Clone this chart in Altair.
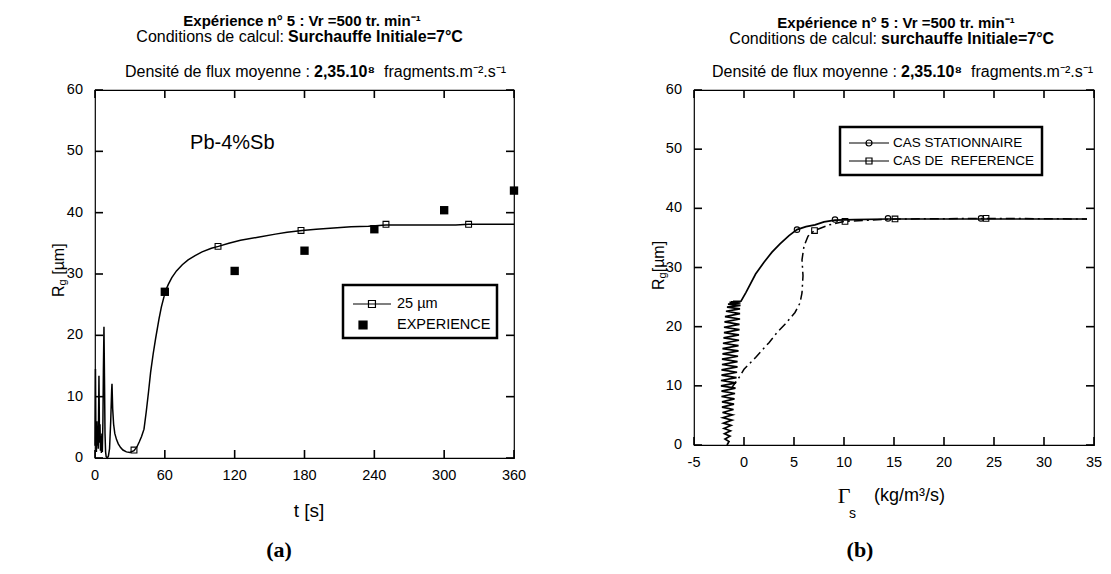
import altair as alt
import pandas as pd

FONT = "Liberation Sans"
SERIF = "Liberation Serif"

# ---------------- Panel (a) : R_g vs t ----------------
curve_t = [0.0, 0.4, 0.8, 1.2, 1.6, 2.0, 2.4, 2.8, 3.4, 3.9, 4.3, 4.7, 5.1, 5.5, 5.9, 6.3,
           6.8, 7.2, 7.7, 8.2, 8.6, 9.1, 9.6, 10.5, 11.5, 12.5, 13.5, 14.3, 14.6, 15.2, 16.0,
           17.0, 18.5, 20.0, 22.0, 24.0, 27.0, 30.0, 33.5, 36.0, 38.0, 40.0, 42.1, 44.0, 46.0,
           47.8, 50.0, 52.1, 55.0, 57.0, 59.3, 60.0, 63, 66, 70, 75, 80, 86, 92, 100, 106,
           115, 125, 140, 155, 165, 178, 190, 205, 220, 235, 250, 270, 290, 310, 321, 340, 360]
curve_r = [2.0, 14.5, 3.0, 1.0, 6.0, 2.0, 4.5, 1.5, 13.4, 2.5, 5.5, 1.2, 3.5, 0.8, 4.0, 1.0,
           6.0, 14.0, 21.4, 12.0, 4.0, 1.0, 0.2, 0.0, 0.3, 1.5, 6.0, 11.0, 12.1, 8.0, 5.5,
           4.0, 3.0, 2.3, 1.7, 1.3, 1.0, 0.9, 1.2, 1.8, 2.6, 3.5, 4.7, 7.5, 10.8,
           14.0, 17.0, 19.5, 22.7, 24.6, 26.3, 27.0, 28.3, 29.4, 30.5, 31.5, 32.3, 33.0, 33.6, 34.2, 34.5,
           35.0, 35.5, 36.0, 36.5, 36.8, 37.1, 37.3, 37.5, 37.7, 37.8, 38.0, 38.0, 38.0, 38.0, 38.1, 38.1, 38.1]
sq25_t = [33.5, 105.7, 177, 250, 321]
sq25_r = [1.3, 34.5, 37.1, 38.1, 38.1]
exp_t = [60, 120, 180, 240, 300, 360]
exp_r = [27.1, 30.5, 33.8, 37.3, 40.4, 43.6]
series_a = ["25 µm", "EXPERIENCE"]
xticks_a = [0, 60, 120, 180, 240, 300, 360]
yticks = [0, 10, 20, 30, 40, 50, 60]

# ---------------- Panel (b) : R_g vs Gamma_s ----------------
stat_g = [-1.7, -1.5, -1.9, -1.4, -1.95, -1.35, -2.0, -1.3, -2.05, -1.2, -2.1, -1.15, -2.15, -1.05,
          -2.2, -1.0, -2.2, -0.95, -2.25, -0.9, -2.25, -0.85, -2.3, -0.8, -2.3, -0.75, -2.25, -0.7,
          -2.25, -0.65, -2.2, -0.65, -2.2, -0.6, -2.15, -0.55, -2.15, -0.55, -2.1, -0.5, -2.05, -0.5,
          -2.0, -0.45, -2.0, -0.45, -1.95, -0.4, -1.9, -0.4, -1.8, -0.4, -1.7, -0.35, -1.6, -0.35,
          -1.45, -0.35, -1.3, -0.3, -1.1, -0.3, -0.8, -0.3,
          0.2, 1.16, 2.0, 2.8, 3.6, 4.5, 5.3, 6.2, 7.1, 8.0, 9.1, 11.0, 14.4, 20.0, 23.7, 30.0, 34.3]
stat_r = [0.0, 0.6, 1.0, 1.5, 1.9, 2.4, 2.8, 3.3, 3.7, 4.2, 4.6, 5.1, 5.5, 6.0, 6.4, 6.9, 7.3, 7.8,
          8.2, 8.7, 9.1, 9.6, 10.0, 10.5, 10.9, 11.4, 11.8, 12.3, 12.7, 13.2, 13.6, 14.1, 14.5, 15.0,
          15.4, 15.9, 16.3, 16.8, 17.2, 17.7, 18.1, 18.6, 19.0, 19.5, 19.9, 20.4, 20.8, 21.3, 21.7,
          22.2, 22.6, 23.0, 23.3, 23.6, 23.8, 24.0, 24.1, 24.2, 24.2, 24.3, 24.3, 24.3, 24.3, 24.3,
          25.8, 28.9, 30.9, 32.6, 34.0, 35.4, 36.4, 36.9, 37.2, 37.7, 38.0, 38.1, 38.2, 38.2, 38.2, 38.2, 38.2]
ref_g = [-1.3, -0.5, 0.0, 1.16, 2.5, 3.3, 4.1, 5.1, 5.6, 5.8, 5.9, 5.8, 6.0, 6.4, 7.05,
         8.5, 10.1, 15.1, 24.2, 34.3]
ref_r = [9.5, 11.4, 12.8, 14.8, 17.3, 19.0, 20.4, 22.4, 24.0, 25.7, 28.6, 31.3, 33.6, 35.3, 36.25,
         37.2, 37.8, 38.2, 38.3, 38.2]
circ_g = [5.3, 9.1, 14.4, 23.7]
circ_r = [36.4, 38.1, 38.3, 38.3]
sqb_g = [7.05, 10.1, 15.1, 24.2]
sqb_r = [36.25, 37.8, 38.2, 38.3]
series_b = ["CAS STATIONNAIRE", "CAS DE\u00a0 REFERENCE"]
xticks_b = [-5, 0, 5, 10, 15, 20, 25, 30, 35]

WA, HA = 419, 368
WB, HB = 400, 355
TICK = 8


def txt(s, x, y, size=15, weight="normal", align="center", angle=0, font=FONT):
    return alt.Chart(pd.DataFrame({"s": [s]})).mark_text(
        fontSize=size, fontWeight=weight, align=align, baseline="middle", font=font,
        color="black", angle=angle).encode(x=alt.value(x), y=alt.value(y), text="s:N")


def tick_labels(xvals, yvals, X, Y, h, xlab_dy=18, ylab_dx=12):
    xdf = pd.DataFrame({"lv": xvals, "lab": [str(v) for v in xvals]})
    ydf = pd.DataFrame({"lv": yvals, "lab": [str(v) for v in yvals]})
    lab = dict(font=FONT, fontSize=14.5, color="black", baseline="middle")
    return [
        alt.Chart(xdf).mark_text(align="center", **lab).encode(
            x=X("lv"), y=alt.value(h + xlab_dy), text="lab:N"),
        alt.Chart(ydf).mark_text(align="right", **lab).encode(
            y=Y("lv"), x=alt.value(-ylab_dx), text="lab:N"),
    ]


def tick_rules(xvals, yvals, X, Y, w, h):
    """Inward ticks on all four sides, placed through the scales."""
    xdf = pd.DataFrame({"tv": xvals})
    ydf = pd.DataFrame({"tv": yvals})
    rule = dict(color="black", strokeWidth=1.6, opacity=1)
    return [
        alt.Chart(xdf).mark_rule(**rule).encode(x=X("tv"), y=alt.value(h), y2=alt.value(h - TICK)),
        alt.Chart(xdf).mark_rule(**rule).encode(x=X("tv"), y=alt.value(0), y2=alt.value(TICK)),
        alt.Chart(ydf).mark_rule(**rule).encode(y=Y("tv"), x=alt.value(0), x2=alt.value(TICK)),
        alt.Chart(ydf).mark_rule(**rule).encode(y=Y("tv"), x=alt.value(w), x2=alt.value(w - TICK)),
    ]


ys = alt.Scale(domain=[0, 60], nice=False)

# ---------- Panel (a) ----------
xs_a = alt.Scale(domain=[0, 360], nice=False, zero=False)


def XA(f):
    return alt.X(f + ":Q", scale=xs_a, axis=None)


def YA(f):
    return alt.Y(f + ":Q", scale=ys, axis=None)


curve_df = pd.DataFrame({"t": curve_t, "r": curve_r, "i": list(range(len(curve_t)))})
sq25_df = pd.DataFrame({"t": sq25_t, "r": sq25_r, "series_a": series_a[0]})
exp_df = pd.DataFrame({"t": exp_t, "r": exp_r, "series_a": series_a[1]})
leg_a_df = pd.concat([sq25_df, exp_df], ignore_index=True)

line_a = alt.Chart(curve_df).mark_line(color="black", strokeWidth=1.5).encode(
    x=XA("t"), y=YA("r"), order="i:Q")
sq25 = alt.Chart(sq25_df).mark_point(shape="square", filled=False, size=34, color="black",
                                     strokeWidth=1.1, opacity=1).encode(x=XA("t"), y=YA("r"))
expm = alt.Chart(exp_df).mark_point(shape="square", filled=True, size=70, color="black",
                                    opacity=1).encode(x=XA("t"), y=YA("r"))

path_25 = "M-0.75,0H2.42M0.54,-0.29H1.12V0.29H0.54Z"
path_exp = "M-0.25,-0.33H0.42V0.33H-0.25Z"
legend_a = alt.Legend(title=None, orient="none", legendX=248, legendY=195, direction="vertical",
                      symbolSize=576, symbolStrokeColor="black", symbolStrokeWidth=1.2,
                      symbolOpacity=1, labelFont=FONT, labelFontSize=14.5, labelColor="black",
                      labelOffset=22, rowPadding=1, padding=6, strokeColor="black",
                      fillColor="white")
leg_a = alt.Chart(leg_a_df).mark_point(opacity=0, color="black").encode(
    x=XA("t"), y=YA("r"),
    shape=alt.Shape("series_a:N", scale=alt.Scale(domain=series_a, range=[path_25, path_exp]),
                    legend=legend_a),
    fill=alt.Fill("series_a:N", scale=alt.Scale(domain=series_a, range=["transparent", "black"]),
                  legend=legend_a),
    stroke=alt.Stroke("series_a:N", scale=alt.Scale(domain=series_a, range=["black", "black"]),
                      legend=legend_a))

pb = alt.Chart(pd.DataFrame({"t": [118], "r": [51.3], "s": ["Pb-4%Sb"]})).mark_text(
    fontSize=20, font=FONT, color="black").encode(x=XA("t"), y=YA("r"), text="s:N")

texts_a = [
    txt("Expérience n° 5 : Vr =500 tr. min⁻¹", 207, -69, weight="bold"),
    txt("Conditions de calcul:", 189, -53, size=16, align="right"),
    txt("Surchauffe Initiale=7°C", 193, -53, size=16, weight="bold", align="left"),
    txt("Densité de flux moyenne :", 215, -18, size=16, align="right"),
    txt("2,35.10⁸", 219, -18, size=16, weight="bold", align="left"),
    txt("fragments.m⁻².s⁻¹", 289, -18, size=16, align="left"),
    txt("R", -36, 207, size=16, align="left", angle=270),
    txt("g", -32, 195.4, size=11, align="left", angle=270),
    txt("[µm]", -36, 184.8, size=16, align="left", angle=270),
    txt("t [s]", 214, 421, size=19),
    txt("(a)", 184, 460, size=22, weight="bold", font=SERIF),
]

left = alt.layer(line_a, sq25, expm, leg_a, pb,
                 *tick_labels(xticks_a, yticks, XA, YA, HA), *texts_a,
                 *tick_rules(xticks_a, yticks, XA, YA, WA, HA)).properties(width=WA, height=HA)

# ---------- Panel (b) ----------
xs_b = alt.Scale(domain=[-5, 35], nice=False, zero=False)


def XB(f):
    return alt.X(f + ":Q", scale=xs_b, axis=None)


def YB(f):
    return alt.Y(f + ":Q", scale=ys, axis=None)


stat_df = pd.DataFrame({"g": stat_g, "r": stat_r, "i": list(range(len(stat_g)))})
ref_df = pd.DataFrame({"g": ref_g, "r": ref_r, "i": list(range(len(ref_g)))})
circ_df = pd.DataFrame({"g": circ_g, "r": circ_r, "series_b": series_b[0]})
sqb_df = pd.DataFrame({"g": sqb_g, "r": sqb_r, "series_b": series_b[1]})
leg_b_df = pd.concat([circ_df, sqb_df], ignore_index=True)

line_stat = alt.Chart(stat_df).mark_line(color="black", strokeWidth=1.7).encode(
    x=XB("g"), y=YB("r"), order="i:Q")
line_ref = alt.Chart(ref_df).mark_line(color="black", strokeWidth=1.5,
                                       strokeDash=[9, 4, 2, 4]).encode(
    x=XB("g"), y=YB("r"), order="i:Q")
circm = alt.Chart(circ_df).mark_point(shape="circle", filled=False, size=30, color="black",
                                      strokeWidth=1.1, opacity=1).encode(x=XB("g"), y=YB("r"))
sqbm = alt.Chart(sqb_df).mark_point(shape="square", filled=False, size=32, color="black",
                                    strokeWidth=1.1, opacity=1).encode(x=XB("g"), y=YB("r"))

path_stat = ("M-0.875,0H4.125M2.0,0A0.375,0.375 0 1,1 1.25,0"
             "A0.375,0.375 0 1,1 2.0,0Z")
path_ref = "M-0.875,0H4.125M1.25,-0.375H2.0V0.375H1.25Z"
legend_b = alt.Legend(title=None, orient="none", legendX=146, legendY=37, direction="vertical",
                      symbolSize=256, symbolStrokeColor="black", symbolStrokeWidth=1.2,
                      symbolOpacity=1, symbolFillColor="transparent", labelFont=FONT,
                      labelFontSize=13.5, labelColor="black", labelOffset=28, rowPadding=2,
                      padding=7, strokeColor="black", fillColor="white")
leg_b = alt.Chart(leg_b_df).mark_point(opacity=0, color="black", filled=False).encode(
    x=XB("g"), y=YB("r"),
    shape=alt.Shape("series_b:N", scale=alt.Scale(domain=series_b, range=[path_stat, path_ref]),
                    legend=legend_b))

texts_b = [
    txt("Expérience n° 5 : Vr =500 tr. min⁻¹", 202, -67, weight="bold"),
    txt("Conditions de calcul:", 183, -51, size=16, align="right"),
    txt("surchauffe Initiale=7°C", 187, -51, size=16, weight="bold", align="left"),
    txt("Densité de flux moyenne :", 203, -18, size=16, align="right"),
    txt("2,35.10⁸", 207, -18, size=16, weight="bold", align="left"),
    txt("fragments.m⁻².s⁻¹", 277, -18, size=16, align="left"),
    txt("R", -35, 200, size=16, align="left", angle=270),
    txt("g", -31, 188.4, size=11, align="left", angle=270),
    txt("[µm]", -35, 182.3, size=16, align="left", angle=270),
    txt("Γ", 150, 406, size=22, font=SERIF),
    txt("s", 158.5, 424, size=14),
    txt("(kg/m³/s)", 180, 406, size=18, align="left"),
    txt("(b)", 166, 460, size=22, weight="bold", font=SERIF),
]

right = alt.layer(line_stat, line_ref, circm, sqbm, leg_b,
                  *tick_labels(xticks_b, yticks, XB, YB, HB), *texts_b,
                  *tick_rules(xticks_b, yticks, XB, YB, WB, HB)).properties(width=WB, height=HB)

chart = alt.hconcat(left, right, spacing=180, bounds="flush").resolve_scale(
    shape="independent", fill="independent", stroke="independent").configure_view(
    stroke="black", strokeWidth=1.2).configure_legend(strokeWidth=2.5).properties(
    padding={"left": 42, "top": 5, "right": 0, "bottom": 0}, background="white")

chart.save("out.html", embed_options={"renderer": "svg", "actions": False})
